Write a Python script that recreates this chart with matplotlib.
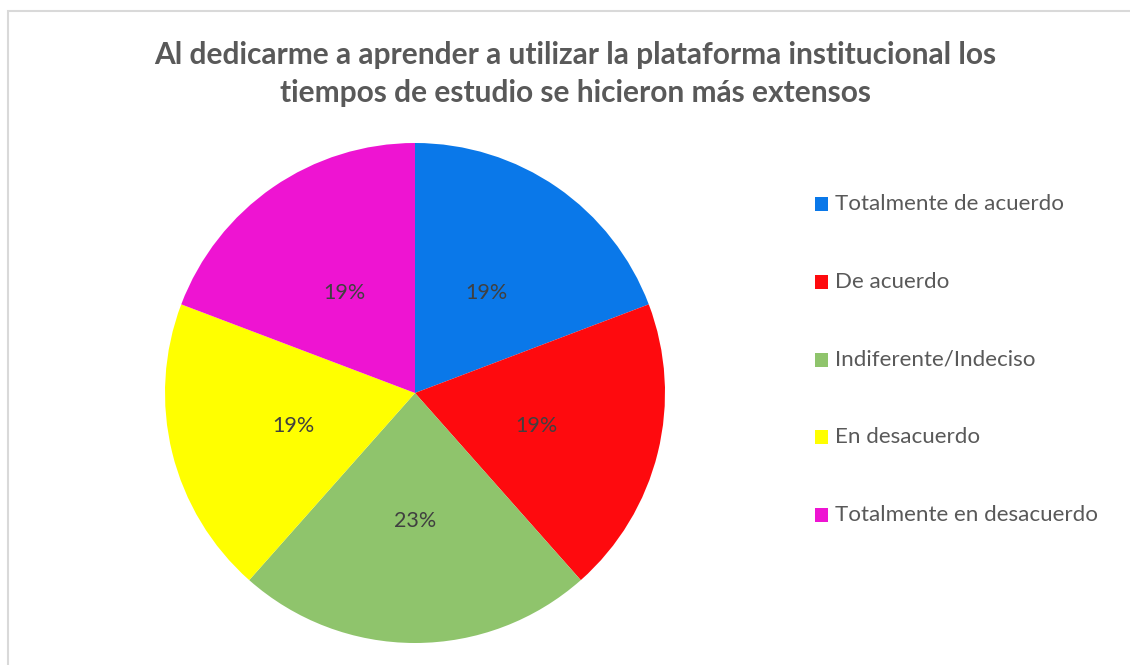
import matplotlib
matplotlib.use("Agg")
import matplotlib.pyplot as plt
from matplotlib.patches import Rectangle

categories = ["Totalmente de acuerdo", "De acuerdo", "Indiferente/Indeciso",
              "En desacuerdo", "Totalmente en desacuerdo"]
counts = [5, 5, 6, 5, 5]
colors = ["#0A78E9", "#FE0A0E", "#8FC46C", "#FFFF00", "#EE14D2"]
title_lines = ["Al dedicarme a aprender a utilizar la plataforma institucional los",
               "tiempos de estudio se hicieron más extensos"]

W, H = 1130, 665
fig = plt.figure(figsize=(W / 100, H / 100), dpi=100)
fig.patch.set_facecolor("white")
FONT = "Lato"
GRAY = "#595959"

def fx(px):
    return px / W

def fy(py):
    return 1 - py / H

# outer border (top and left visible)
fig.add_artist(Rectangle((fx(8), fy(1000)), fx(1400), (1000 - 11) / H,
                         transform=fig.transFigure, fill=False,
                         edgecolor="#D9D9D9", linewidth=1.5))

# pie
cx, cy, R = 415, 393, 250
ax = fig.add_axes([fx(cx - R), fy(cy + R), 2 * R / W, 2 * R / H])
wedges, texts, autotexts = ax.pie(
    counts, colors=colors, startangle=90, counterclock=False,
    autopct=lambda p: f"{p:.0f}%", pctdistance=0.5, radius=1,
    wedgeprops=dict(linewidth=0),
    textprops=dict(color="#404040", fontsize=12.5, family=FONT))
ax.set_xlim(-1, 1)
ax.set_ylim(-1, 1)
ax.set_aspect("equal")
ax.axis("off")

renderer = fig.canvas.get_renderer()

def fit(t, target_w):
    fs = t.get_fontsize()
    w = t.get_window_extent(renderer).width
    t.set_fontsize(fs * target_w / w)

fit(autotexts[0], 42)
for t in autotexts:
    t.set_fontsize(autotexts[0].get_fontsize())
    x, y = t.get_position()
    t.set_position((x, y - 0.012))

# title
t1 = fig.text(fx(575), fy(55), title_lines[0], ha="center", va="center",
              fontsize=18, fontweight="bold", color=GRAY, family=FONT)
fit(t1, 846)
t2 = fig.text(fx(575), fy(93), title_lines[1], ha="center", va="center",
              fontsize=t1.get_fontsize(), fontweight="bold", color=GRAY, family=FONT)

# legend
y0, dy = 204, 77.8
leg_texts = []
for i, (lab, col) in enumerate(zip(categories, colors)):
    y = y0 + i * dy
    fig.add_artist(Rectangle((fx(815), fy(y + 7)), 13 / W, 14 / H,
                             transform=fig.transFigure, facecolor=col,
                             edgecolor="none"))
    t = fig.text(fx(835), fy(y), lab, ha="left", va="center",
                 fontsize=13, color=GRAY, family=FONT)
    leg_texts.append(t)
fit(leg_texts[0], 227)
for t in leg_texts[1:]:
    t.set_fontsize(leg_texts[0].get_fontsize())

fig.savefig("out.png", dpi=100, facecolor="white")
